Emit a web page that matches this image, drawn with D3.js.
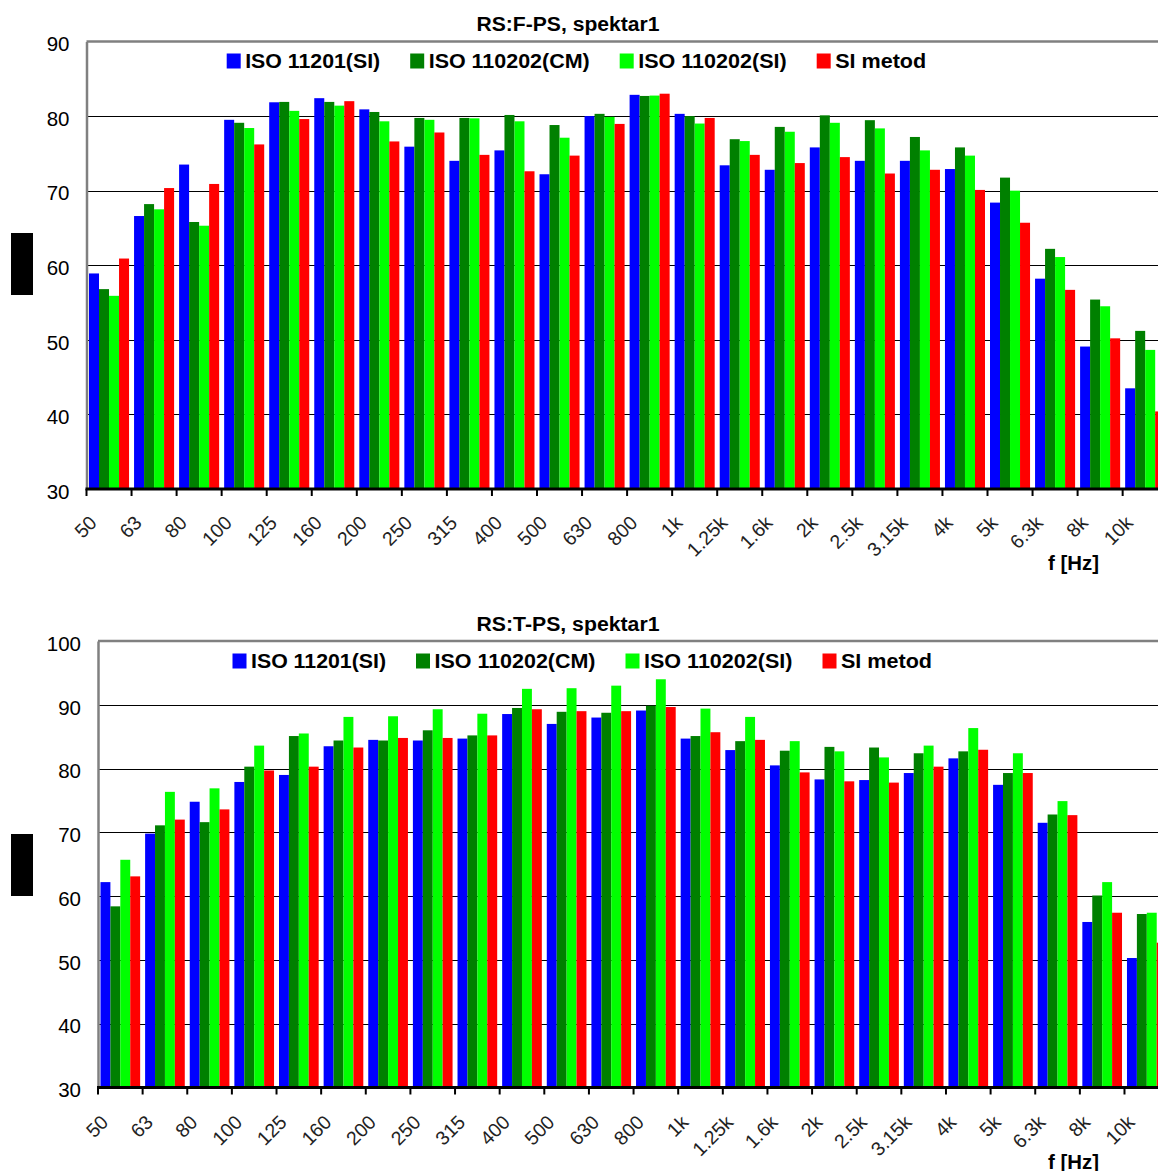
<!DOCTYPE html>
<html>
<head>
<meta charset="utf-8">
<script src="https://cdn.jsdelivr.net/npm/d3@7"></script>
<style>
  html, body { margin: 0; padding: 0; background: #fff; }
  svg { display: block; }
  text { font-family: "Liberation Sans", Arial, sans-serif; }
</style>
</head>
<body>
<svg id="chart" width="1158" height="1171"></svg>
<script>
// ---------- data ----------
const categories = ["50","63","80","100","125","160","200","250","315","400","500","630","800","1k","1.25k","1.6k","2k","2.5k","3.15k","4k","5k","6.3k","8k","10k"];
const seriesNames = ["ISO 11201(SI)","ISO 110202(CM)","ISO 110202(SI)","SI metod"];
const seriesColors = ["#0000ff","#008000","#00ff00","#ff0000"];

// RS:F-PS, spektar1
const fpsIso11201 = [58.9,66.6,73.5,79.5,81.85,82.4,80.9,75.9,74.0,75.4,72.2,80.0,82.85,80.3,73.4,72.8,75.8,74.0,74.0,72.9,68.4,58.2,49.1,43.5];
const fpsIsoCM    = [56.8,68.2,65.8,79.1,81.9,81.9,80.55,79.75,79.75,80.15,78.8,80.3,82.7,80.0,76.9,78.55,80.1,79.45,77.2,75.8,71.75,62.2,55.4,51.2];
const fpsIsoSI    = [55.9,67.5,65.3,78.4,80.7,81.4,79.3,79.5,79.7,79.3,77.1,79.9,82.75,79.0,76.65,77.9,79.1,78.35,75.4,74.7,70.0,61.1,54.5,48.65];
const fpsSIMetod  = [60.9,70.35,70.9,76.2,79.6,82.0,76.6,77.8,74.8,72.6,74.7,78.95,83.0,79.75,74.8,73.7,74.5,72.3,72.8,70.1,65.7,56.7,50.2,40.4];
const fpsTicks = [30,40,50,60,70,80,90];

// RS:T-PS, spektar1
const tpsIso11201 = [62.2,69.8,74.8,77.9,79.0,83.5,84.5,84.4,84.7,88.55,87.0,88.0,89.1,84.7,82.9,80.5,78.3,78.2,79.3,81.6,77.45,71.5,55.95,50.3];
const tpsIsoCM    = [58.4,71.1,71.6,80.3,85.1,84.4,84.4,86.0,85.2,89.5,88.9,88.75,89.85,85.1,84.3,82.8,83.4,83.3,82.4,82.7,79.3,72.8,60.1,57.2];
const tpsIsoSI    = [65.7,76.35,76.9,83.6,85.5,88.1,88.2,89.3,88.6,92.5,92.6,93.0,94.0,89.4,88.1,84.3,82.7,81.75,83.6,86.35,82.4,74.9,62.2,57.4];
const tpsSIMetod  = [63.1,72.0,73.6,79.7,80.3,83.3,84.8,84.8,85.2,89.3,89.0,89.0,89.65,85.7,84.5,79.4,78.0,77.8,80.3,82.95,79.3,72.7,57.4,52.7];
const tpsTicks = [30,40,50,60,70,80,90,100];

const xTitle = "f [Hz]";

// ---------- drawing ----------
const svg = d3.select("#chart");
const legendTextWidths = [135, 161, 148.5, 91];

function drawChart(cfg) {
  const g = svg.append("g");
  const series = cfg.values;

  const x0 = d3.scaleBand().domain(categories)
    .range([cfg.left, cfg.left + categories.length * cfg.step])
    .paddingInner(0).paddingOuter(0);
  const x1 = d3.scaleBand().domain(d3.range(seriesNames.length))
    .range([0, x0.bandwidth()]).paddingInner(0).paddingOuter(0.25);
  const y = d3.scaleLinear().domain([cfg.ticks[0], cfg.ticks[cfg.ticks.length - 1]])
    .range([cfg.bottom, cfg.top]);

  // black box on the left (y title block)
  g.append("rect").attr("x", 11).attr("y", cfg.blockY).attr("width", 22).attr("height", 62).attr("fill", "#000");

  // gridlines
  g.append("g").selectAll("line").data(cfg.ticks.slice(1, -1)).join("line")
    .attr("x1", cfg.left).attr("x2", 1158)
    .attr("y1", d => Math.round(y(d)) + 0.5).attr("y2", d => Math.round(y(d)) + 0.5)
    .attr("stroke", "#000").attr("stroke-width", 1);

  // bars
  const groups = g.append("g").selectAll("g").data(categories).join("g")
    .attr("transform", c => `translate(${x0(c)},0)`);
  groups.selectAll("rect").data((c, i) => series.map((s, k) => ({k, v: s[i]}))).join("rect")
    .attr("x", d => x1(d.k))
    .attr("width", x1.bandwidth())
    .attr("y", d => y(d.v))
    .attr("height", d => y(cfg.ticks[0]) - y(d.v))
    .attr("fill", d => seriesColors[d.k]);

  // top border (plot area)
  g.append("line").attr("x1", cfg.left).attr("x2", 1158)
    .attr("y1", y(cfg.ticks[cfg.ticks.length - 1])).attr("y2", y(cfg.ticks[cfg.ticks.length - 1]))
    .attr("stroke", "#808080").attr("stroke-width", 2.5);

  // y axis
  const yAxis = d3.axisLeft(y).tickValues(cfg.ticks).tickSize(0).tickPadding(17);
  const ya = g.append("g").attr("transform", `translate(${cfg.left},0)`).call(yAxis);
  ya.select(".domain").attr("stroke", "#808080").attr("stroke-width", 2.5);
  ya.selectAll("text").attr("font-size", 20.5).attr("fill", "#000")
    .attr("font-family", "'Liberation Sans', Arial, sans-serif").attr("dy", "0.45em");

  // x axis
  const xa = g.append("g").attr("transform", `translate(0,${cfg.bottom})`);
  xa.append("line").attr("x1", cfg.left - 1).attr("x2", 1158).attr("y1", 0).attr("y2", 0)
    .attr("stroke", "#000").attr("stroke-width", 3);
  xa.selectAll("line.tk").data(categories).join("line").attr("class", "tk")
    .attr("x1", c => x0(c)).attr("x2", c => x0(c))
    .attr("y1", 0).attr("y2", 7).attr("stroke", "#000").attr("stroke-width", 2);
  xa.selectAll("text").data(categories).join("text")
    .attr("transform", c => `translate(${x0(c) + 11.5},${cfg.labelDy}) rotate(-45)`)
    .attr("text-anchor", "end").attr("font-size", 19.5).attr("fill", "#222")
    .text(c => c);

  // x title
  g.append("text").attr("x", 1048).attr("y", cfg.bottom + cfg.xTitleDy)
    .attr("font-size", 20).attr("font-weight", "bold").attr("fill", "#000")
    .attr("textLength", 51).attr("lengthAdjust", "spacingAndGlyphs").text(xTitle);

  // title
  g.append("text").attr("x", 568).attr("y", cfg.titleY).attr("text-anchor", "middle")
    .attr("font-size", 20).attr("font-weight", "bold").attr("fill", "#000")
    .attr("textLength", 183).attr("lengthAdjust", "spacingAndGlyphs").text(cfg.title);

  // legend
  let lx = cfg.legendX;
  seriesNames.forEach((name, k) => {
    g.append("rect").attr("x", lx).attr("y", cfg.legendY - 14).attr("width", 14).attr("height", 15)
      .attr("fill", seriesColors[k]);
    g.append("text").attr("x", lx + 18.5).attr("y", cfg.legendY)
      .attr("font-size", 20).attr("font-weight", "bold").attr("fill", "#000")
      .attr("textLength", legendTextWidths[k]).attr("lengthAdjust", "spacingAndGlyphs").text(name);
    lx += 18.5 + legendTextWidths[k] + 30;
  });
}

drawChart({
  title: "RS:F-PS, spektar1",
  values: [fpsIso11201, fpsIsoCM, fpsIsoSI, fpsSIMetod],
  ticks: fpsTicks,
  left: 86.5, step: 45.05, top: 41.5, bottom: 489,
  blockY: 233, labelDy: 35, xTitleDy: 81, titleY: 31,
  legendX: 226.7, legendY: 67.5
});

drawChart({
  title: "RS:T-PS, spektar1",
  values: [tpsIso11201, tpsIsoCM, tpsIsoSI, tpsSIMetod],
  ticks: tpsTicks,
  left: 98, step: 44.63, top: 641, bottom: 1087.5,
  blockY: 834, labelDy: 36, xTitleDy: 81, titleY: 631,
  legendX: 232.5, legendY: 667.5
});
</script>
</body>
</html>
